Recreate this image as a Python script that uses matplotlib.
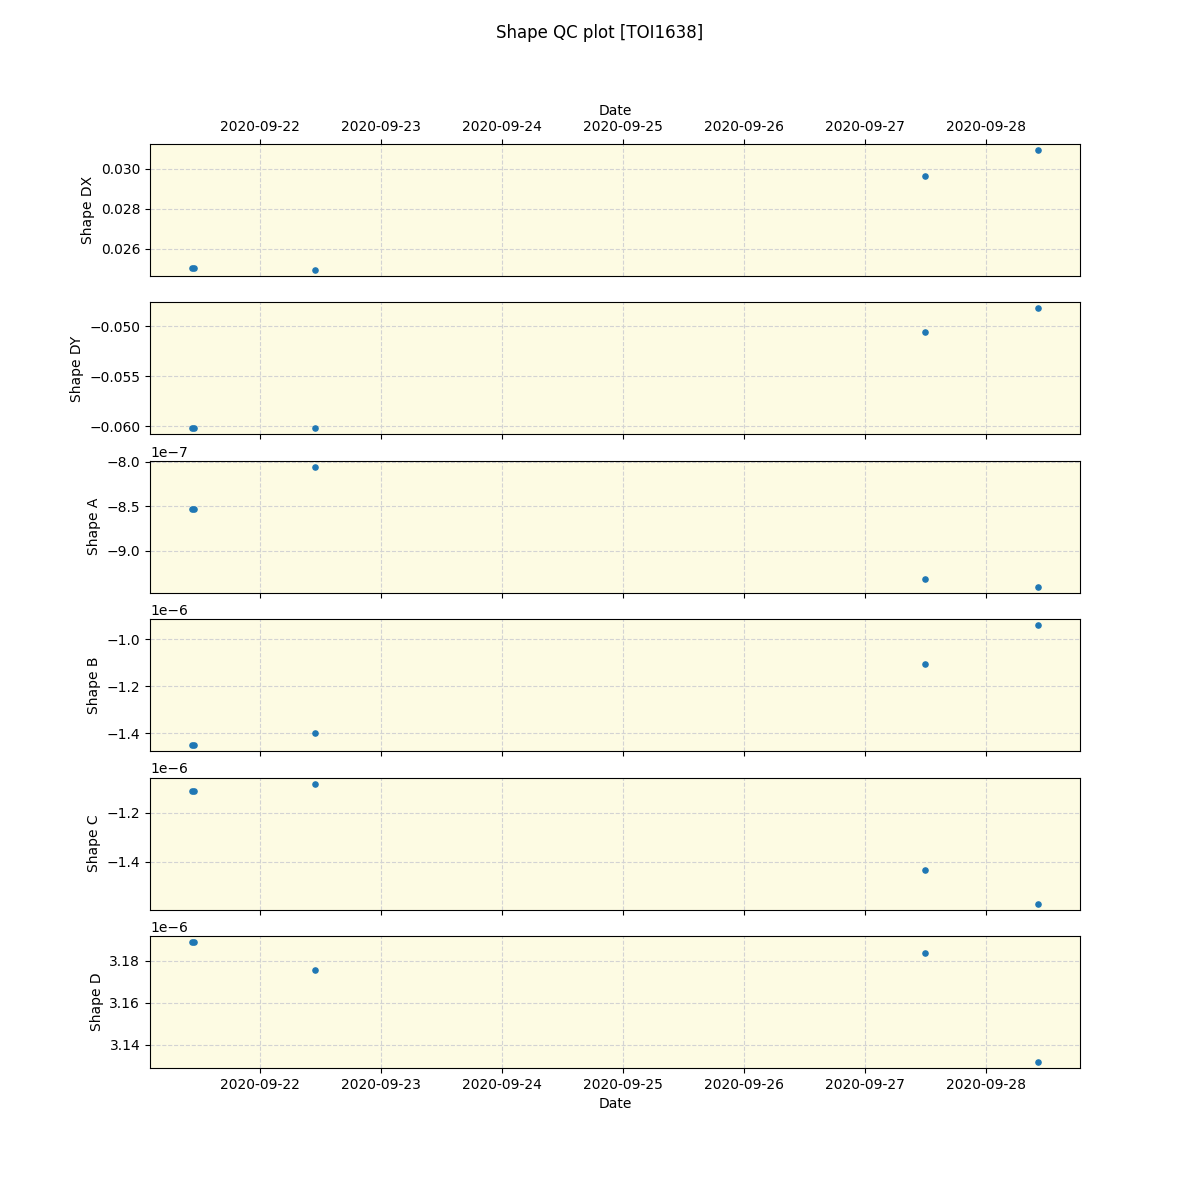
import matplotlib
matplotlib.use('Agg')
import matplotlib.pyplot as plt
import matplotlib.dates as mdates
import pandas as pd

# observation times
times = pd.to_datetime(['2020-09-21 10:38', '2020-09-21 10:55', '2020-09-22 11:00',
                        '2020-09-27 11:50', '2020-09-28 10:15'])

shape_dx = [0.02505, 0.02505, 0.02495, 0.02965, 0.03095]
shape_dy = [-0.0602, -0.0602, -0.0602, -0.0506, -0.0482]
shape_a = [-8.534e-7, -8.530e-7, -8.056e-7, -9.315e-7, -9.404e-7]
shape_b = [-1.451e-6, -1.450e-6, -1.400e-6, -1.106e-6, -0.940e-6]
shape_c = [-1.114e-6, -1.113e-6, -1.082e-6, -1.433e-6, -1.571e-6]
shape_d = [3.1890e-6, 3.1890e-6, 3.1757e-6, 3.1838e-6, 3.1319e-6]

labels = ['Shape DX', 'Shape DY', 'Shape A', 'Shape B', 'Shape C', 'Shape D']
series = [shape_dx, shape_dy, shape_a, shape_b, shape_c, shape_d]

fig, axes = plt.subplots(6, 1, sharex=True, figsize=(12, 12), dpi=100)
fig.suptitle('Shape QC plot [TOI1638]')

for ax, lab, vals in zip(axes, labels, series):
    ax.set_facecolor('#fdfbe3')
    ax.scatter(times, vals, s=14, color='tab:blue', zorder=3)
    ax.grid(True, linestyle='--', color='lightgray', zorder=0)
    ax.set_axisbelow(True)
    ax.set_ylabel(lab)

axes[-1].xaxis.set_major_locator(mdates.DayLocator())
axes[-1].xaxis.set_major_formatter(mdates.DateFormatter('%Y-%m-%d'))
axes[-1].set_xlabel('Date')

top = axes[0]
top.xaxis.tick_top()
top.xaxis.set_label_position('top')
top.tick_params(labeltop=True)
top.set_xlabel('Date')

plt.savefig('out.png')
